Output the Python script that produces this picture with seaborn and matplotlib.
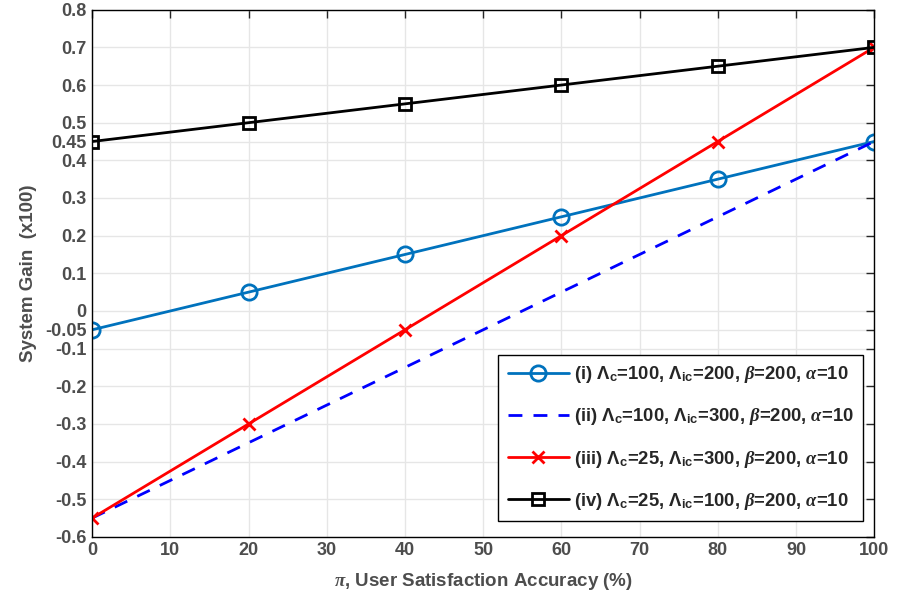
import matplotlib
matplotlib.use("Agg")
import matplotlib.pyplot as plt
import seaborn as sns
import pandas as pd

x = [0, 20, 40, 60, 80, 100]
s1 = [-0.05, 0.05, 0.15, 0.25, 0.35, 0.45]
s2 = [-0.55, -0.35, -0.15, 0.05, 0.25, 0.45]
s3 = [-0.55, -0.30, -0.05, 0.20, 0.45, 0.70]
s4 = [0.45, 0.50, 0.55, 0.60, 0.65, 0.70]
labels = [
    r"(i) $\Lambda_{\mathrm{c}}$=100, $\Lambda_{\mathrm{ic}}$=200, $\beta$=200, $\alpha$=10",
    r"(ii) $\Lambda_{\mathrm{c}}$=100, $\Lambda_{\mathrm{ic}}$=300, $\beta$=200, $\alpha$=10",
    r"(iii) $\Lambda_{\mathrm{c}}$=25, $\Lambda_{\mathrm{ic}}$=300, $\beta$=200, $\alpha$=10",
    r"(iv) $\Lambda_{\mathrm{c}}$=25, $\Lambda_{\mathrm{ic}}$=100, $\beta$=200, $\alpha$=10",
]
yticks = [-0.6, -0.5, -0.4, -0.3, -0.2, -0.1, -0.05, 0, 0.1, 0.2, 0.3, 0.4, 0.45, 0.5, 0.6, 0.7, 0.8]
ytick_labels = ["-0.6", "-0.5", "-0.4", "-0.3", "-0.2", "-0.1", "-0.05", "0", "0.1", "0.2", "0.3", "0.4", "0.45", "0.5", "0.6", "0.7", "0.8"]
xticks = [0, 10, 20, 30, 40, 50, 60, 70, 80, 90, 100]

sns.set_style("white")
plt.rcParams["font.family"] = ["Liberation Sans", "DejaVu Sans"]
plt.rcParams["font.weight"] = "bold"
plt.rcParams["mathtext.fontset"] = "custom"
plt.rcParams["mathtext.rm"] = "Liberation Sans:bold"
plt.rcParams["mathtext.bf"] = "Liberation Sans:bold"
plt.rcParams["mathtext.it"] = "Liberation Serif:bold:italic"
plt.rcParams["mathtext.default"] = "it"

fig = plt.figure(figsize=(9.04, 6.08), dpi=100)
ax = fig.add_axes([0.102, 0.117, 0.865, 0.867])

styles = [
    dict(color="#0072BD", marker="o", markersize=11, markerfacecolor="none",
         markeredgecolor="#0072BD", markeredgewidth=2.0, linestyle="-"),
    dict(color="#0000FF", linestyle=(0, (5, 4))),
    dict(color="#FF0000", marker="x", markersize=8, markeredgecolor="#FF0000",
         markeredgewidth=2.0, linestyle="-"),
    dict(color="#000000", marker="s", markersize=8.5, markerfacecolor="none",
         markeredgecolor="#000000", markeredgewidth=2.0, linestyle="-"),
]
for ys, lab, st in zip([s1, s2, s3, s4], labels, styles):
    df = pd.DataFrame({"x": x, "y": ys})
    sns.lineplot(data=df, x="x", y="y", ax=ax, label=lab, linewidth=2.0, **st)

ax.set_xlim(0, 100)
ax.set_ylim(-0.6, 0.8)
ax.set_xticks(xticks)
ax.set_xticklabels([str(t) for t in xticks])
ax.set_yticks(yticks)
ax.set_yticklabels(ytick_labels)
ax.grid(True, color="#e6e6e6", linewidth=1.0)
ax.set_axisbelow(True)
for sp in ax.spines.values():
    sp.set_visible(True)
    sp.set_color("black")
    sp.set_linewidth(1.0)
ax.tick_params(direction="in", length=6, width=1, top=True, right=True,
               labelsize=13, labelcolor="#4d4d4d", pad=4)
for lbl in ax.get_xticklabels() + ax.get_yticklabels():
    lbl.set_fontweight("bold")
ax.set_xlabel(r"$\pi$, User Satisfaction Accuracy (%)", fontsize=13.5, fontweight="bold", color="#4d4d4d", labelpad=8)
ax.set_ylabel("System Gain  (x100)", fontsize=13.5, fontweight="bold", color="#4d4d4d", labelpad=6)

leg = ax.legend(loc="lower right", bbox_to_anchor=(0.986, 0.03), fontsize=13.3, frameon=True,
                fancybox=False, edgecolor="black", framealpha=1, handlelength=3.3,
                handletextpad=0.3, labelspacing=1.15, borderpad=0.5, borderaxespad=0)
leg.get_frame().set_linewidth(1.0)
for t in leg.get_texts():
    t.set_fontweight("bold")

fig.savefig("out.png", dpi=100)
